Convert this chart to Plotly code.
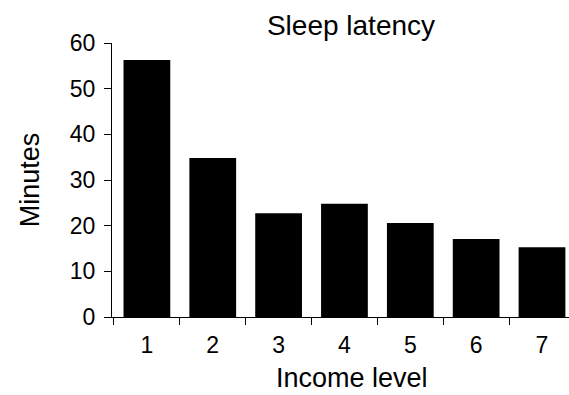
import plotly.graph_objects as go

# Mean sleep latency (minutes) by income level
income_levels = ["1", "2", "3", "4", "5", "6", "7"]
latency_minutes = [56.3, 34.8, 22.7, 24.8, 20.6, 17.1, 15.3]
y_ticks = [0, 10, 20, 30, 40, 50, 60]

FONT = "Liberation Sans, Arial, sans-serif"

fig = go.Figure(
    go.Bar(
        x=income_levels,
        y=latency_minutes,
        marker=dict(color="black", line=dict(width=0)),
    )
)

fig.update_layout(
    width=569,
    height=395,
    margin=dict(l=112, r=0, t=43, b=78),
    paper_bgcolor="white",
    plot_bgcolor="white",
    bargap=0.29,
    showlegend=False,
    font=dict(family=FONT, size=23, color="black"),
    title=dict(
        text="Sleep latency",
        x=351 / 569,
        xanchor="center",
        xref="container",
        y=1 - 25 / 395,
        yanchor="middle",
        yref="container",
        font=dict(size=28, family=FONT, color="black"),
    ),
    annotations=[
        dict(
            text="Income level",
            xref="paper",
            yref="paper",
            x=(352 - 112) / 457,
            y=-(394 - 317) / 274,
            xanchor="center",
            yanchor="bottom",
            showarrow=False,
            borderpad=0,
            font=dict(size=27, family=FONT, color="black"),
        )
    ],
)

fig.update_xaxes(
    type="category",
    range=[-0.53, 6.41],
    tickson="boundaries",
    ticks="outside",
    ticklen=7,
    tickwidth=1,
    tickcolor="black",
    ticklabelstandoff=7,
    showline=True,
    linecolor="black",
    linewidth=1,
    showgrid=False,
    zeroline=False,
    tickfont=dict(size=23, family=FONT, color="black"),
)

fig.update_yaxes(
    range=[0, 60],
    tickmode="array",
    tickvals=y_ticks,
    ticks="outside",
    ticklen=7,
    tickwidth=1,
    tickcolor="black",
    ticklabelstandoff=4,
    showline=True,
    linecolor="black",
    linewidth=1,
    showgrid=False,
    zeroline=False,
    tickfont=dict(size=23, family=FONT, color="black"),
    title=dict(text="Minutes", font=dict(size=27, family=FONT), standoff=22),
)

fig.write_html("out.html")
